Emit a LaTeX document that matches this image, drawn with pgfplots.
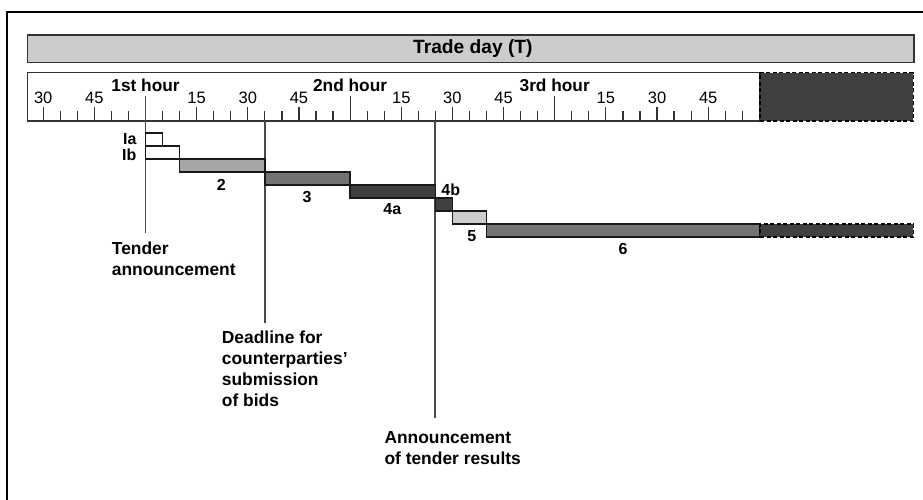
\documentclass[border=0pt]{standalone}
\usepackage{pgfplots}
\pgfplotsset{compat=1.18}
\usepackage{fontspec}
\setmainfont{Liberation Sans}
\definecolor{cA}{HTML}{A6A6A6}
\definecolor{cM}{HTML}{737373}
\definecolor{cD}{HTML}{404040}
\definecolor{cL}{HTML}{CCCCCC}
\definecolor{cLine}{HTML}{333333}
\definecolor{cV}{HTML}{4A4A4A}
\newcommand{\lab}{\bfseries\fontsize{16}{19}\selectfont}
\newcommand{\ann}{\bfseries\fontsize{17.4}{21}\selectfont}
\begin{document}
\begin{tikzpicture}
\useasboundingbox (0,0) rectangle (923pt,499pt);
\clip (0,0) rectangle (923pt,499pt);
\begin{axis}[
  at={(27.7pt,378pt)}, anchor=south west,
  scale only axis, width=732.3pt, height=48.3pt,
  xmin=-34.55, xmax=180.2, ymin=378, ymax=426.3,
  clip=false,
  axis line style={draw=cLine, line width=1.5pt},
  ytick=\empty,
  xtick pos=bottom,
  tick align=inside,
  xtick={-30,-15,15,30,45,75,90,105,135,150,165},
  xticklabels={30,45,15,30,45,15,30,45,15,30,45},
  minor xtick={-30,-25,...,175},
  major tick length=13.7pt, minor tick length=10pt,
  tick style={draw=cLine, line width=1.2pt},
  xticklabel style={font=\fontsize{16.5}{18}\selectfont, anchor=center, yshift=22.7pt},
  extra x ticks={0,60,120},
  extra x tick labels={1st hour,2nd hour,3rd hour},
  extra x tick style={major tick length=25pt, xticklabel style={font=\bfseries\fontsize{17.3}{20}\selectfont, yshift=13.3pt}},
]
% outer frame
\addplot[black, line width=2.3pt, line join=miter] coordinates {(-40.62,-20) (-40.62,487) (260,487)};
% trade day bar
\addplot[fill=cL, draw=cLine, line width=1.5pt] coordinates {(-34.55,436.7) (225.37,436.7) (225.37,464) (-34.55,464)} -- cycle;
\node[font=\bfseries\fontsize{19.2}{22}\selectfont, inner sep=0] at (axis cs:96.0,450) {Trade day (T)};
% dark continuation of timeline
\addplot[fill=cD, draw=black, dash pattern=on 4pt off 2.5pt, line width=1.4pt] coordinates {(180.2,378) (225.16,378) (225.16,426.3) (180.2,426.3)} -- cycle;
% vertical event lines
\addplot[draw=cV, line width=1.8pt] coordinates {(0,403) (0,265.7)};
\addplot[draw=cV, line width=1.8pt] coordinates {(35,378) (35,176.3)};
\addplot[draw=cV, line width=1.8pt] coordinates {(85,378) (85,80.7)};
% bars
\addplot[fill=white, draw=black!90, line width=1.6pt] coordinates {(0,353) (5,353) (5,366) (0,366)} -- cycle;
\addplot[fill=white, draw=black!90, line width=1.6pt] coordinates {(0,340) (10,340) (10,353) (0,353)} -- cycle;
\addplot[fill=cA, draw=black!90, line width=1.6pt] coordinates {(10,327) (35,327) (35,340) (10,340)} -- cycle;
\addplot[fill=cM, draw=black!90, line width=1.6pt] coordinates {(35,314) (60,314) (60,327) (35,327)} -- cycle;
\addplot[fill=cD, draw=black!90, line width=1.6pt] coordinates {(60,301) (85,301) (85,314) (60,314)} -- cycle;
\addplot[fill=cD, draw=black!90, line width=1.6pt] coordinates {(85,288) (90,288) (90,301) (85,301)} -- cycle;
\addplot[fill=cL, draw=black!90, line width=1.6pt] coordinates {(90,275) (100,275) (100,288) (90,288)} -- cycle;
\addplot[fill=cM, draw=black!90, line width=1.6pt] coordinates {(100,262) (180.2,262) (180.2,275) (100,275)} -- cycle;
\addplot[fill=cD, draw=black, dash pattern=on 4pt off 2.5pt, line width=1.4pt] coordinates {(180.2,262) (225.16,262) (225.16,275) (180.2,275)} -- cycle;
% bar labels
\node[anchor=east, inner sep=0, font=\lab] at (axis cs:-2.6,360.3) {Ia};
\node[anchor=east, inner sep=0, font=\lab] at (axis cs:-2.6,344) {Ib};
\node[inner sep=0, font=\lab] at (axis cs:22.23,314) {2};
\node[inner sep=0, font=\lab] at (axis cs:47.36,301.5) {3};
\node[inner sep=0, font=\lab] at (axis cs:72.37,289.5) {4a};
\node[inner sep=0, font=\lab] at (axis cs:89.53,309.5) {4b};
\node[inner sep=0, font=\lab] at (axis cs:95.69,263.2) {5};
\node[inner sep=0, font=\lab] at (axis cs:140.03,249.8) {6};
% annotations
\node[anchor=north west, inner sep=0, align=left, font=\ann] at (axis cs:-9.91,257) {Tender\\announcement};
\node[anchor=north west, inner sep=0, align=left, font=\ann] at (axis cs:22.35,168) {Deadline for\\counterparties’\\submission\\of bids};
\node[anchor=north west, inner sep=0, align=left, font=\ann] at (axis cs:70.03,67.5) {Announcement\\of tender results};
\end{axis}
\end{tikzpicture}
\end{document}
